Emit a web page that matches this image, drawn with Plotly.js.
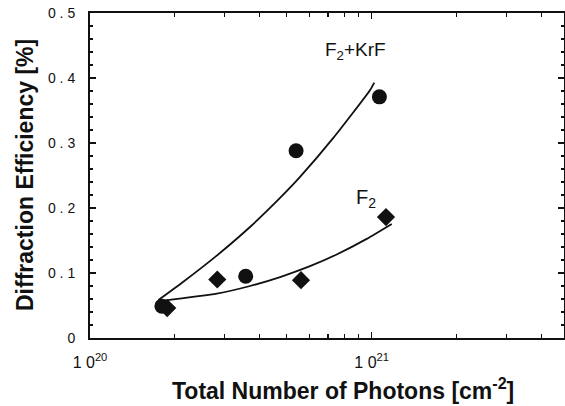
<!DOCTYPE html>
<html>
<head>
<meta charset="utf-8">
<script src="https://cdn.plot.ly/plotly-3.0.1.min.js"></script>
<style>html,body{margin:0;padding:0;background:#fff;}#chart{width:565px;height:406px;}</style>
</head>
<body>
<div id="chart"></div>
<script>
// Measured points
const krfX = [1.80e20, 3.57e20, 5.39e20, 1.065e21];
const krfY = [0.049, 0.095, 0.288, 0.371];
const f2X = [1.88e20, 2.83e20, 5.61e20, 1.124e21];
const f2Y = [0.046, 0.090, 0.089, 0.186];
// Fitted curves as drawn
const krfFitX = [1.75e20, 2.144e20, 2.818e20, 3.698e20, 4.727e20, 5.567e20, 7.307e20, 9.86e20, 1.021e21];
const krfFitY = [0.0585, 0.0866, 0.1268, 0.1708, 0.2155, 0.2478, 0.3078, 0.3812, 0.393];
const f2FitX = [1.77e20, 2.82e20, 3.70e20, 4.73e20, 6.04e20, 7.51e20, 9.60e20, 1.178e21];
const f2FitY = [0.0569, 0.0683, 0.080, 0.0938, 0.1105, 0.1285, 0.1525, 0.1755];
const xTickVals = [1e20, 1e21];
const xTickText = ['1 0<sup>20</sup>', '1 0<sup>21</sup>'];
const yTickVals = [0, 0.1, 0.2, 0.3, 0.4, 0.5];
const yTickText = ['0', '0\u00a0.\u00a01', '0\u00a0.\u00a02', '0\u00a0.\u00a03', '0\u00a0.\u00a04', '0\u00a0.\u00a05'];
const xTitle = 'Total Number of Photons [cm<sup>-2</sup>]';
const yTitle = 'Diffraction Efficiency [%]';
const labelKrF = 'F<sub>2</sub>+KrF';
const labelF2 = 'F<sub>2</sub>';

const F = 'Liberation Sans, Arial, Helvetica, sans-serif';
const INK = '#111';
const traces = [
  {x: krfFitX, y: krfFitY, mode: 'lines', line: {color: INK, width: 1.8, shape: 'spline', smoothing: 0.5}, hoverinfo: 'skip'},
  {x: f2FitX, y: f2FitY, mode: 'lines', line: {color: INK, width: 1.8, shape: 'spline', smoothing: 0.5}, hoverinfo: 'skip'},
  {x: f2X, y: f2Y, mode: 'markers', marker: {symbol: 'diamond', size: 14, color: INK}},
  {x: krfX, y: krfY, mode: 'markers', marker: {symbol: 'circle', size: 15, color: INK}}
];
const pw = 565 - 90 - 1, ph = 406 - 13 - 68;
const layout = {
  width: 565, height: 406,
  margin: {l: 90, r: 1, t: 13, b: 68},
  paper_bgcolor: '#fff', plot_bgcolor: '#fff',
  showlegend: false,
  font: {family: F, color: INK},
  xaxis: {
    type: 'log', range: [20, 21.6826],
    tickmode: 'array', tickvals: xTickVals, ticktext: xTickText,
    ticks: 'inside', ticklen: 6, tickwidth: 1.5, tickcolor: INK,
    minor: {ticks: 'inside', ticklen: 4, tickwidth: 1.2, tickcolor: INK, dtick: 'D1'},
    showline: true, linewidth: 2, linecolor: INK, mirror: 'ticks',
    showgrid: false, zeroline: false,
    tickfont: {size: 16, family: F, color: INK},
    ticklabelstandoff: 9
  },
  yaxis: {
    range: [0, 0.5],
    tickmode: 'array', tickvals: yTickVals, ticktext: yTickText,
    ticks: 'inside', ticklen: 6, tickwidth: 1.5, tickcolor: INK,
    minor: {ticks: 'inside', ticklen: 3, tickwidth: 1.2, tickcolor: INK, dtick: 0.02},
    showline: true, linewidth: 2, linecolor: INK, mirror: 'ticks',
    showgrid: false, zeroline: false,
    tickfont: {size: 14, family: F, color: INK},
    ticklabelstandoff: 10
  },
  annotations: [
    {x: 20.944, y: 0.4415, xref: 'x', yref: 'y', text: labelKrF, showarrow: false, font: {size: 19, family: F, color: INK}},
    {x: 20.98, y: 0.214, xref: 'x', yref: 'y', text: labelF2, showarrow: false, font: {size: 20, family: F, color: INK}},
    {x: (343 - 90) / pw, y: (338 - 389) / ph, xref: 'paper', yref: 'paper', xanchor: 'center', yanchor: 'middle',
     text: xTitle, showarrow: false, font: {size: 23, family: F, weight: 'bold', color: INK}},
    {x: (25 - 90) / pw, y: (338 - 175) / ph, xref: 'paper', yref: 'paper', xanchor: 'center', yanchor: 'middle',
     text: yTitle, textangle: -90, showarrow: false, font: {size: 23, family: F, weight: 'bold', color: INK}}
  ]
};
Plotly.newPlot('chart', traces, layout, {displayModeBar: false, staticPlot: true});
</script>
</body>
</html>
